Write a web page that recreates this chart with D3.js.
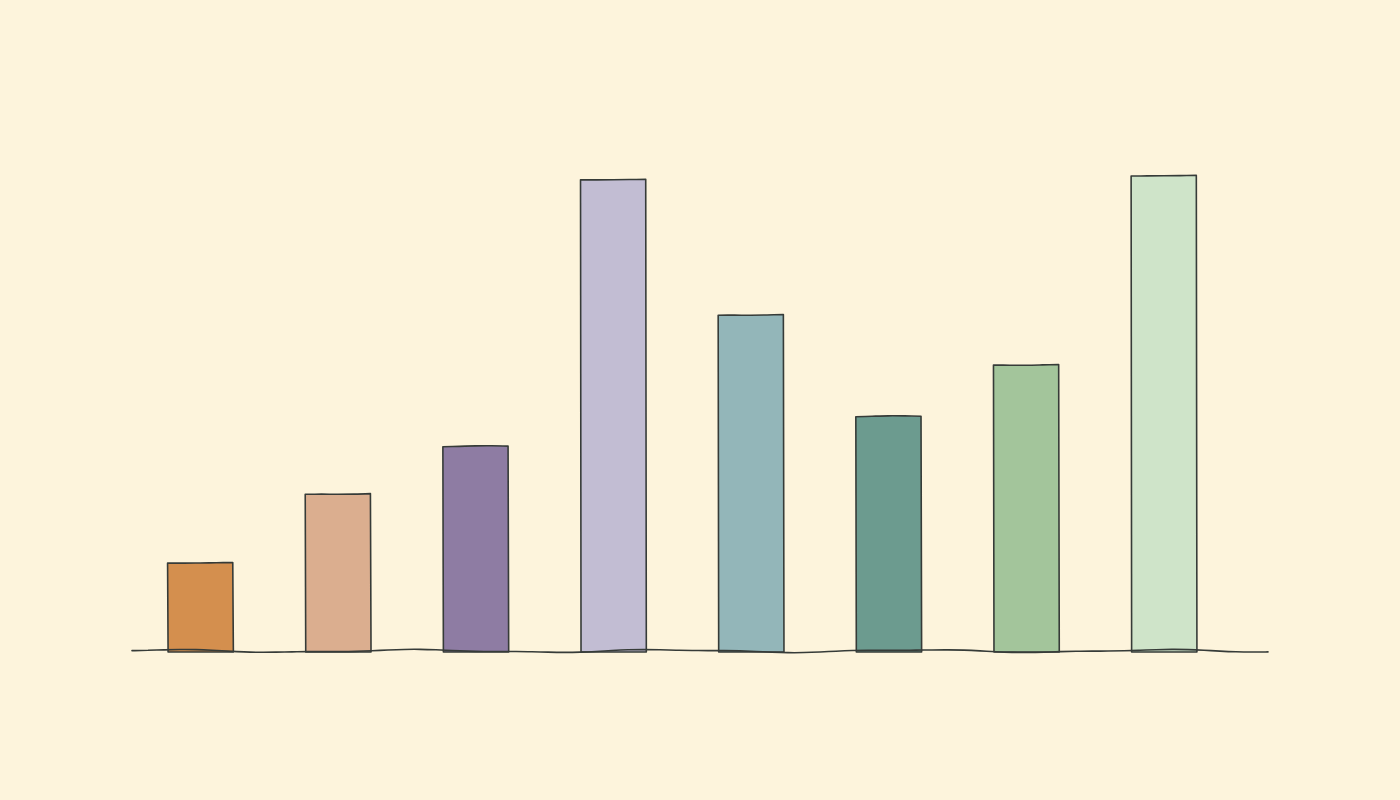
<!DOCTYPE html>
<html>
<head>
<meta charset="utf-8">
<script src="https://cdn.jsdelivr.net/npm/d3@7"></script>
<style>
  html, body { margin: 0; padding: 0; background: #fdf4dc; }
  svg { display: block; }
</style>
</head>
<body>
<svg id="chart" width="1400" height="800"></svg>
<script>
const categories = ["A", "B", "C", "D", "E", "F", "G", "H"];
const values = [18.5, 33, 43, 99.2, 70.7, 49.3, 60.2, 100];
const colors = ["#d48f4e", "#dbae8f", "#8e7ca3", "#c2bdd3", "#93b6b9", "#6c9b8f", "#a3c59b", "#cfe4c9"];

const W = 1400, H = 800;
const svg = d3.select("#chart");

svg.append("rect").attr("width", W).attr("height", H).attr("fill", "#fdf4dc");

const x = d3.scaleBand()
  .domain(categories)
  .range([131.6, 1232.8])
  .paddingInner(0.53)
  .paddingOuter(0.265);

const y = d3.scaleLinear().domain([0, 100]).range([651, 176]);

const ink = "#363b38";

// deterministic, gentle hand-drawn wobble
function wob(t, seed, amp) {
  return amp * (Math.sin(t * 0.018 + seed * 1.7) * 0.7 + Math.sin(t * 0.041 + seed * 3.1) * 0.3);
}

const curve = d3.line().curve(d3.curveCatmullRom);

function edge(p0, p1, seed, amp, n) {
  const pts = [];
  for (let i = 0; i <= n; i++) {
    const t = i / n;
    const xx = p0[0] + (p1[0] - p0[0]) * t;
    const yy = p0[1] + (p1[1] - p0[1]) * t;
    const s = Math.sin(Math.PI * t);
    if (p0[0] === p1[0]) pts.push([xx + wob(yy, seed, amp) * s, yy]);
    else pts.push([xx, yy + wob(xx, seed, amp) * s]);
  }
  return pts;
}

function barPath(x0, x1, yTop, yBot, seed) {
  const left = edge([x0, yBot], [x0 - 0.5, yTop], seed, 3.2, 12);
  const top = edge([x0 - 0.5, yTop], [x1, yTop - 0.6], seed + 2, 0.7, 4);
  const right = edge([x1, yTop - 0.6], [x1 + 0.6, yBot], seed + 5, 3.2, 12);
  return curve(left) + curve(top).replace(/^M/, "L") + curve(right).replace(/^M/, "L") + "Z";
}

const g = svg.append("g");

categories.forEach((c, i) => {
  const x0 = x(c), x1 = x(c) + x.bandwidth();
  g.append("path")
    .attr("d", barPath(x0, x1, y(values[i]), y(0) + 1, i + 1))
    .attr("fill", colors[i])
    .attr("stroke", ink)
    .attr("stroke-width", 1.6)
    .attr("stroke-linejoin", "round");
});

// wavy baseline
const basePts = d3.range(132, 1284, 16).map(xx => [Math.min(xx, 1275), y(0) + wob(xx * 1.4, 4, 1.8)]);
svg.append("path")
  .attr("d", d3.line().curve(d3.curveBasis)(basePts))
  .attr("fill", "none")
  .attr("stroke", ink)
  .attr("stroke-width", 1.6)
  .attr("stroke-linecap", "round");
</script>
</body>
</html>
